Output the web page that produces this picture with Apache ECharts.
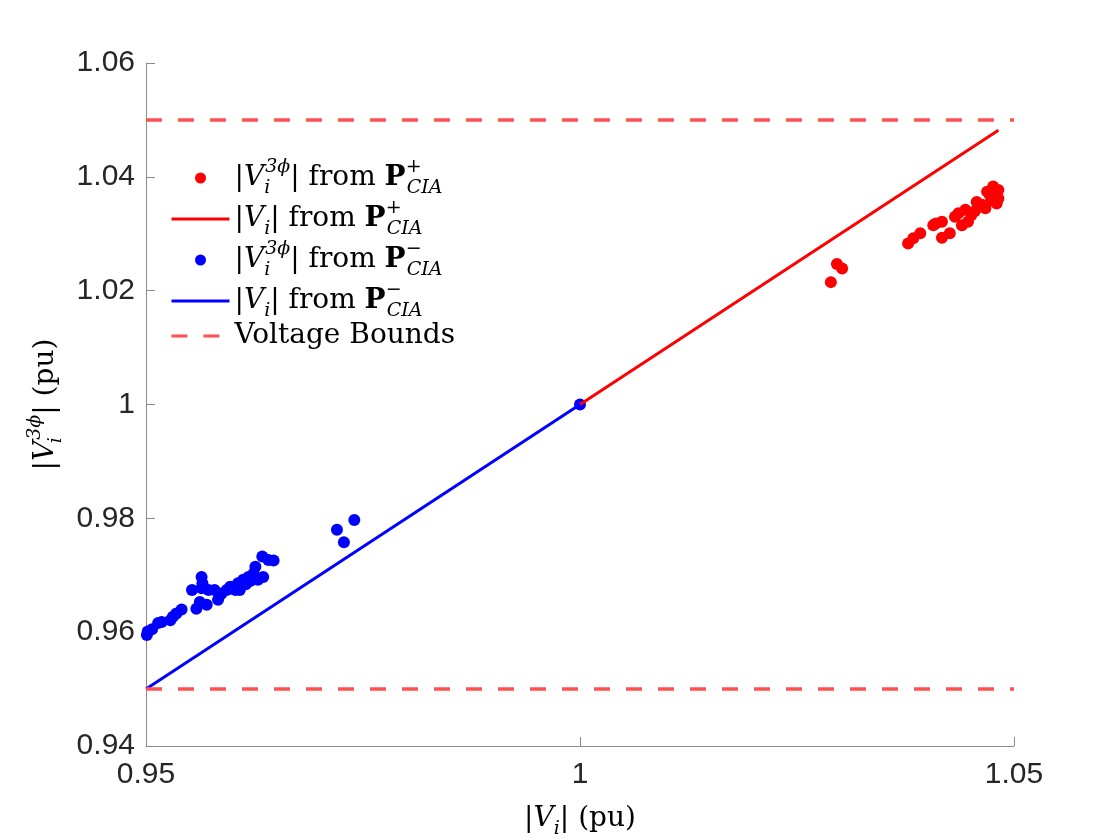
<!DOCTYPE html>
<html>
<head>
<meta charset="utf-8">
<script src="https://cdn.jsdelivr.net/npm/echarts@6/dist/echarts.min.js"></script>
<style>
  html, body { margin: 0; padding: 0; background: #fff; }
  #main { width: 1120px; height: 840px; }
</style>
</head>
<body>
<div id="main"></div>
<script>
// |V_i^3phi| vs |V_i|
var redX = [1.0289, 1.0296, 1.0302,
            1.0378, 1.0384, 1.0392, 1.0407, 1.0417, 1.0417, 1.0426, 1.0432, 1.0440, 1.0444,
            1.0451, 1.0447, 1.0457, 1.0467, 1.0463, 1.0469, 1.0476, 1.0482, 1.0480, 1.0474,
            1.0472, 1.0482, 1.0410, 1.0436, 1.0455, 1.0478];
var redY = [1.0215, 1.0247, 1.0239,
            1.0283, 1.0292, 1.0301, 1.0315, 1.0321, 1.0293, 1.0301, 1.0330, 1.0315, 1.0342,
            1.0333, 1.0321, 1.0356, 1.0345, 1.0351, 1.0374, 1.0383, 1.0377, 1.0353, 1.0359,
            1.0368, 1.0362, 1.0318, 1.0336, 1.0340, 1.0370];

var blueX = [0.9502, 0.9507, 0.9501, 0.9514, 0.9518, 0.9528, 0.9531, 0.9535, 0.9541, 0.9553,
             0.9558, 0.9562, 0.9570, 0.9564, 0.9565, 0.9564, 0.9572, 0.9579, 0.9583, 0.9587,
             0.9593, 0.9597, 0.9603, 0.9606, 0.9612, 0.9608, 0.9618, 0.9624, 0.9626, 0.9629,
             0.9635, 0.9634, 0.9641, 0.9647, 0.9585, 0.9615, 0.9620,
             0.9720, 0.9728, 0.9740, 1.0000];
var blueY = [0.9601, 0.9605, 0.9595, 0.9616, 0.9618, 0.9621, 0.9627, 0.9633, 0.9640, 0.9674,
             0.9641, 0.9653, 0.9648, 0.9697, 0.9686, 0.9677, 0.9674, 0.9674, 0.9657, 0.9668,
             0.9674, 0.9680, 0.9674, 0.9686, 0.9692, 0.9674, 0.9697, 0.9703, 0.9715, 0.9692,
             0.9697, 0.9733, 0.9727, 0.9726, 0.9665, 0.9684, 0.9690,
             0.9780, 0.9758, 0.9797, 1.0000];

var redLineX = [1.0, 1.0482];
var redLineY = [1.0, 1.0482];
var blueLineX = [0.95, 1.0];
var blueLineY = [0.95, 1.0];

var boundX = [0.95, 1.05];
var upperBound = [1.05, 1.05];
var lowerBound = [0.95, 0.95];

var xTicks = { min: 0.95, max: 1.05, step: 0.05 };
var yTicks = { min: 0.94, max: 1.06, step: 0.02 };

function pairs(xs, ys) {
    return xs.map(function (x, i) { return [x, ys[i]]; });
}

function tickFmt(v) {
    return String(parseFloat(v.toFixed(2)));
}

var serif = 'DejaVu Serif';
var rich = {
    a: { fontFamily: serif, fontSize: 28, color: '#000', lineHeight: 40 },
    v: { fontFamily: serif, fontSize: 28, color: '#000', lineHeight: 40, fontStyle: 'italic' },
    b: { fontFamily: serif, fontSize: 28, color: '#000', lineHeight: 40, fontWeight: 'bold' },
    sub: { fontFamily: serif, fontSize: 19, color: '#000', lineHeight: 23, fontStyle: 'italic', verticalAlign: 'bottom' },
    subn: { fontFamily: serif, fontSize: 19, color: '#000', lineHeight: 23, fontStyle: 'italic', verticalAlign: 'bottom', width: 1 },
    sup: { fontFamily: serif, fontSize: 19, color: '#000', lineHeight: 21, fontStyle: 'italic', verticalAlign: 'top' },
    suprn: { fontFamily: serif, fontSize: 19, color: '#000', lineHeight: 21, verticalAlign: 'top', width: 1 }
};

var legendText = {
    'p3': '{a||}{v|V}{subn|i}{sup|3\u03d5}{a|| from }{b|P}{suprn|+}{sub|CIA}',
    'pl': '{a||}{v|V}{sub|i}{a|| from }{b|P}{suprn|+}{sub|CIA}',
    'm3': '{a||}{v|V}{subn|i}{sup|3\u03d5}{a|| from }{b|P}{suprn|\u2212}{sub|CIA}',
    'ml': '{a||}{v|V}{sub|i}{a|| from }{b|P}{suprn|\u2212}{sub|CIA}',
    'vb': '{a|Voltage Bounds}'
};

var axisColor = '#8a8a8a';
var tickLabel = { fontFamily: 'Liberation Sans', fontSize: 30, color: '#262626' };
var noDot = { opacity: 0 };

var chart = echarts.init(document.getElementById('main'));

var option = {
    backgroundColor: '#fff',
    animation: false,
    grid: { left: 146, right: 106, top: 63, bottom: 94, outerBoundsMode: 'none' },
    legend: {
        orient: 'vertical',
        left: 170,
        top: 158,
        padding: 0,
        itemWidth: 58,
        itemHeight: 11,
        itemGap: 1,
        data: [
            { name: 'p3' },
            { name: 'pl', itemStyle: noDot },
            { name: 'm3' },
            { name: 'ml', itemStyle: noDot },
            { name: 'vb', itemStyle: noDot }
        ],
        formatter: function (name) { return legendText[name]; },
        textStyle: { rich: rich },
        lineStyle: { width: 3 }
    },
    xAxis: {
        type: 'value',
        min: xTicks.min, max: xTicks.max, interval: xTicks.step,
        name: '{a||}{v|V}{sub|i}{a|| (pu)}',
        nameLocation: 'middle',
        nameGap: 53,
        nameTextStyle: { rich: rich },
        axisLine: { lineStyle: { color: axisColor, width: 1 } },
        axisTick: { inside: true, length: 9, lineStyle: { color: axisColor } },
        axisLabel: Object.assign({ margin: 14, formatter: tickFmt }, tickLabel),
        splitLine: { show: false }
    },
    yAxis: {
        type: 'value',
        min: yTicks.min, max: yTicks.max, interval: yTicks.step,
        name: '{a||}{v|V}{subn|i}{sup|3\u03d5}{a|| (pu)}',
        nameLocation: 'middle',
        nameGap: 80,
        nameRotate: 90,
        nameTextStyle: { rich: rich },
        axisLine: { lineStyle: { color: axisColor, width: 1 } },
        axisTick: { inside: true, length: 9, lineStyle: { color: axisColor } },
        axisLabel: Object.assign({ margin: 11, formatter: tickFmt }, tickLabel),
        splitLine: { show: false }
    },
    series: [
        {
            name: 'p3', type: 'scatter', symbolSize: 12,
            itemStyle: { color: '#ff0000', opacity: 1 },
            data: pairs(redX, redY)
        },
        {
            name: 'pl', type: 'line', symbol: 'none',
            lineStyle: { color: '#ff0000', width: 3 }, itemStyle: { color: '#ff0000' },
            data: pairs(redLineX, redLineY)
        },
        {
            name: 'm3', type: 'scatter', symbolSize: 12,
            itemStyle: { color: '#0000ff', opacity: 1 },
            data: pairs(blueX, blueY)
        },
        {
            name: 'ml', type: 'line', symbol: 'none',
            lineStyle: { color: '#0000ff', width: 3 }, itemStyle: { color: '#0000ff' },
            data: pairs(blueLineX, blueLineY)
        },
        {
            name: 'vb', type: 'line', symbol: 'none',
            lineStyle: { color: '#ff5050', width: 3.5, type: [16, 16] }, itemStyle: { color: '#ff5050' },
            data: pairs(boundX, upperBound)
        },
        {
            name: 'vb', type: 'line', symbol: 'none',
            lineStyle: { color: '#ff5050', width: 3.5, type: [16, 16] }, itemStyle: { color: '#ff5050' },
            data: pairs(boundX, lowerBound)
        }
    ]
};

chart.setOption(option);
</script>
</body>
</html>
